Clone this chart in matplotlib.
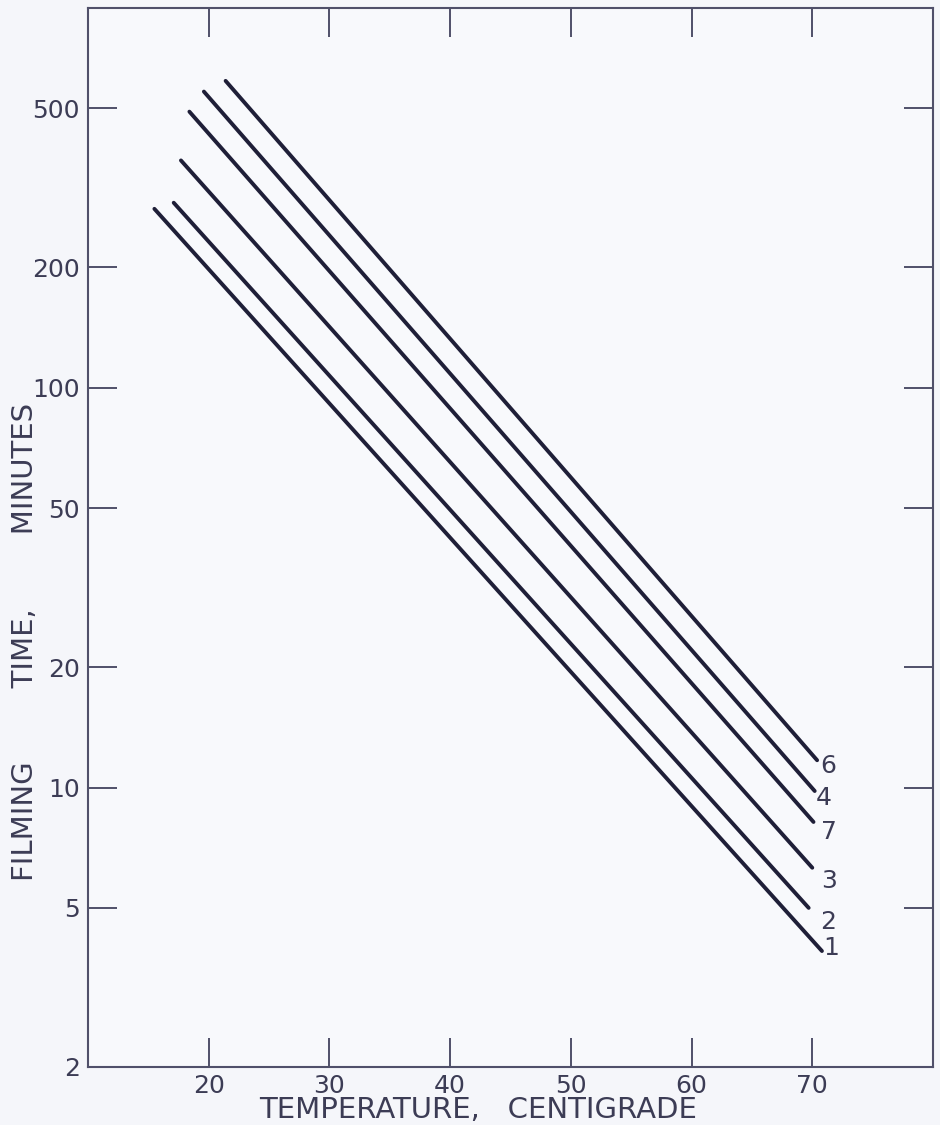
import matplotlib
matplotlib.use("Agg")
import matplotlib.pyplot as plt
from matplotlib.ticker import NullLocator

# line data (temperature in C, filming time in minutes)
curve_names = ["1", "2", "3", "7", "4", "6"]
temp_start = [15.5, 17.1, 17.7, 18.4, 19.6, 21.4]
temp_end = [70.8, 69.7, 70.0, 70.1, 70.2, 70.4]
time_start = [280, 290, 370, 490, 550, 585]
time_end = [3.9, 5.0, 6.3, 8.2, 9.8, 11.7]

x_ticks = [20, 30, 40, 50, 60, 70]
y_ticks = [2, 5, 10, 20, 50, 100, 200, 500]
y_tick_labels = ["2", "5", "10", "20", "50", "100", "200", "500"]

# where each curve number sits relative to the end of its line (pixels)
label_offsets = [(9, 3), (19, -14), (17, -13), (15, -10), (9, -7), (11, -6)]

bg = "#f5f6fa"
ink = "#1f1f38"
frame = "#50506a"
txt = "#3c3c55"

fig = plt.figure(figsize=(9.4, 11.25), dpi=100, facecolor=bg)
ax = fig.add_axes([88 / 940, 1 - 1067 / 1125, (933 - 88) / 940, (1067 - 8) / 1125])
ax.set_facecolor("#f8f9fc")

for name, t0, t1, m0, m1, off in zip(curve_names, temp_start, temp_end,
                                     time_start, time_end, label_offsets):
    ax.plot([t0, t1], [m0, m1], color=ink, lw=2.8, solid_capstyle="round")
    ax.annotate(name, (t1, m1), xytext=off, textcoords="offset pixels",
                ha="center", va="center", fontsize=18, color=txt)

ax.set_yscale("log")
ax.set_xlim(10, 80)
ax.set_ylim(2, 890)
ax.set_xticks(x_ticks)
ax.set_xticklabels([str(t) for t in x_ticks])
ax.set_yticks(y_ticks)
ax.set_yticklabels(y_tick_labels)
ax.yaxis.set_minor_locator(NullLocator())
ax.xaxis.set_minor_locator(NullLocator())

ax.tick_params(direction="in", length=21, width=1.4, top=True, right=True,
               labelsize=18, color=frame, labelcolor=txt)
ax.tick_params(axis="x", pad=5)
ax.tick_params(axis="y", pad=6)
for s in ax.spines.values():
    s.set_color(frame)
    s.set_linewidth(1.5)

fig.text(478 / 940, 1 - 1110 / 1125, "TEMPERATURE,   CENTIGRADE",
         ha="center", va="center", fontsize=21, color=txt)
fig.text(25 / 940, 1 - 642 / 1125, "FILMING        TIME,        MINUTES",
         ha="center", va="center", rotation=90, fontsize=21, color=txt)

fig.savefig("out.png", dpi=100, facecolor=bg)
